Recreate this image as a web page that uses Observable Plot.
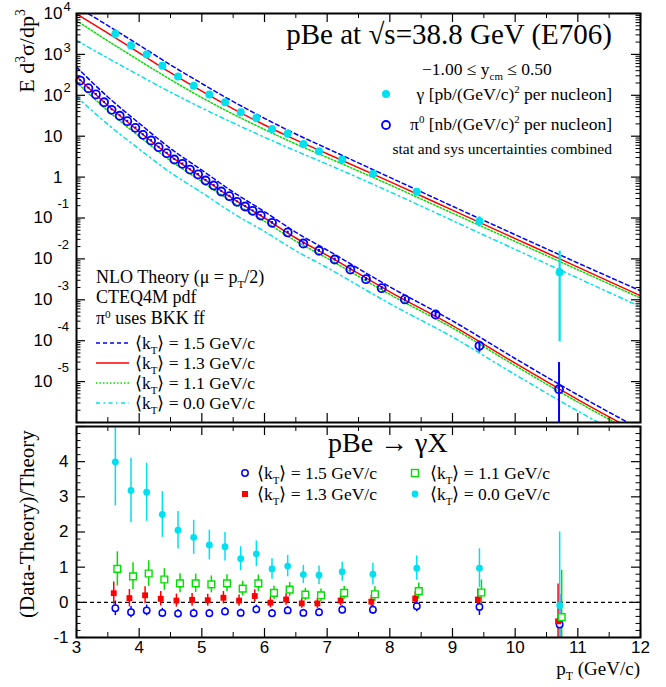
<!DOCTYPE html>
<html><head><meta charset="utf-8">
<script src="https://cdn.jsdelivr.net/npm/d3@7"></script>
<script src="https://cdn.jsdelivr.net/npm/@observablehq/plot@0.6"></script>
<style>
html,body{margin:0;padding:0;background:#fff;}
#wrap{position:relative;width:666px;height:687px;overflow:hidden;background:#fff;}
#wrap svg{position:absolute;left:0;}
</style></head><body><div id="wrap"></div>
<script>
// ---------------- data ----------------
const gammaPt = [3.62,3.87,4.12,4.37,4.62,4.87,5.12,5.37,5.62,5.87,6.12,6.37,6.62,6.87,7.24,7.73,8.43,9.43,10.71];
const gammaXsec = [3190,1650,1000,526,288,171,105,68,38.6,28,15.1,11.4,6.45,4.3,2.7,1.2,0.436,0.0836,0.0047];
const gammaRelErr = [0.25,0.22,0.20,0.186,0.175,0.17,0.16,0.157,0.152,0.153,0.149,0.15,0.145,0.15,0.144,0.172,0.175,0.28,2.3];

const pi0Pt = [3.06,3.19,3.31,3.44,3.56,3.69,3.81,3.94,4.06,4.19,4.31,4.44,4.56,4.69,4.81,4.94,5.06,5.19,5.31,5.44,5.56,5.69,5.81,5.94,6.12,6.37,6.62,6.87,7.12,7.37,7.62,7.87,8.24,8.73,9.43,10.70];
const pi0Xsec = [229,149,105,67.6,44.2,31.6,23.3,16.0,10.8,7.85,5.38,3.84,2.69,2.11,1.53,1.16,0.826,0.624,0.445,0.341,0.249,0.191,0.150,0.115,0.0764,0.0443,0.0238,0.0158,0.00966,0.00551,0.00319,0.00192,0.00102,0.000437,0.000075,0.0000065];
const pi0RelErr = [0.05,0.05,0.05,0.05,0.05,0.05,0.05,0.05,0.05,0.05,0.05,0.05,0.05,0.05,0.05,0.05,0.05,0.05,0.05,0.05,0.05,0.05,0.05,0.05,0.07,0.07,0.08,0.08,0.08,0.09,0.1,0.1,0.12,0.15,0.3,3.5];

const theoryPt = [3,3.5,4,4.5,5,5.5,6,6.5,7,8,9,10,11,12];
const gammaKt15 = [14791,5070,1687,555,194,70.3,27.4,11.3,5.01,0.984,0.194,0.0391,0.00794,0.00166];
const gammaKt13 = [9772,3311,1089,358,126,46.7,18.8,8.11,3.72,0.773,0.156,0.0314,0.00631,0.00126];
const gammaKt11 = [6683,2138,711,242,87.7,34.6,14.6,6.44,3.02,0.646,0.131,0.0267,0.00543,0.0011];
const gammaKt00 = [2188,813,307,119,49.0,21.1,9.44,4.36,2.07,0.437,0.0865,0.0171,0.00339,0.000676];
const pi0Kt15 = [490,91.2,20.7,5.01,1.48,0.431,0.143,0.0447,0.0164,0.00207,3.05e-4,3.67e-5,4.73e-6,6.84e-7];
const pi0Kt13 = [288,56.2,13.0,3.24,0.977,0.292,0.1,0.0324,0.0122,0.00157,2.34e-4,2.82e-5,3.63e-6,5.25e-7];
const pi0Kt11 = [209,41.7,9.89,2.51,0.776,0.237,0.0832,0.0272,0.01035,0.00135,2.04e-4,2.45e-5,3.16e-6,4.57e-7];
const pi0Kt00 = [93.3,19.5,4.84,1.29,0.417,0.130,0.0468,0.0158,0.0061,8.04e-4,1.23e-4,1.48e-5,1.91e-6,2.75e-7];

// (Data-Theory)/Theory for the photon, per kT
const ratioKt15 = [-0.17,-0.28,-0.23,-0.30,-0.32,-0.31,-0.31,-0.26,-0.30,-0.20,-0.31,-0.23,-0.30,-0.28,-0.21,-0.21,-0.11,-0.13,-0.63];
const ratioKt13 = [0.26,0.12,0.20,0.10,0.05,0.07,0.06,0.13,0.05,0.18,-0.01,0.08,-0.03,-0.03,0.05,0.02,0.11,0.08,-0.54];
const ratioKt11 = [0.95,0.74,0.82,0.65,0.54,0.54,0.51,0.54,0.39,0.54,0.27,0.36,0.22,0.20,0.27,0.23,0.32,0.28,-0.42];
const ratioKt00 = [3.99,3.18,3.13,2.50,2.05,1.85,1.63,1.58,1.24,1.38,0.95,1.03,0.79,0.77,0.87,0.80,0.97,0.97,-0.09];

const yDecadeExps = [4,3,2,1,0,-1,-2,-3,-4,-5];
const xTickLabels = [3,4,5,6,7,8,9,10,11,12];
const ratioTickLabels = [-1,0,1,2,3,4];

// ---------------- style ----------------
const BLUE = "#0000ff", RED = "#ff0000", GREEN = "#00e000", CYAN = "#00e0ee";
const DASH = {b:"4,3", r:null, g:"1.5,2", c:"4,3.5,1.5,3.5"};
const SANS = "Liberation Sans, Arial, sans-serif";
const SERIF = "Liberation Serif, Times New Roman, serif";

const W = 666, ML = 76, MR = 26;
const FW = W - ML - MR;

// ---------------- top panel ----------------
const topH = 425, topMT = 13, topMB = 3;
const topFH = topH - topMT - topMB;
const curve = (vals, color, dash) => Plot.line(theoryPt.map((p,i)=>({x:p,y:vals[i]})),
  {x:"x", y:"y", stroke:color, strokeWidth:1.5, strokeDasharray:dash, curve:"monotone-x", clip:true});

const decades = d3.range(-6,5).map(e=>10**e);
const minorLog = [];
for (let e=-6;e<4;e++) for (let m=2;m<10;m++) minorLog.push(m*10**e);
const xMajor = d3.range(3,12.01,1), xMinor = d3.range(3.5,12,1);

const gammaRows = gammaPt.map((p,i)=>({x:p, y:gammaXsec[i], lo:Math.max(gammaXsec[i]*(1-gammaRelErr[i]), gammaXsec[i]/50), hi:gammaXsec[i]*(1+gammaRelErr[i])}));
const pi0Rows = pi0Pt.map((p,i)=>({x:p, y:pi0Xsec[i], lo:Math.max(pi0Xsec[i]*(1-pi0RelErr[i]), pi0Xsec[i]/50), hi:pi0Xsec[i]*(1+pi0RelErr[i])}));

const posExps = yDecadeExps.filter(e=>e>=0), negExps = yDecadeExps.filter(e=>e<0);
const topPlot = Plot.plot({
  width:W, height:topH, marginLeft:ML, marginRight:MR, marginTop:topMT, marginBottom:topMB,
  x:{domain:[3,12], axis:null},
  y:{type:"log", domain:[1e-6,1e4], axis:null},
  marks:[
    curve(gammaKt00, CYAN, DASH.c), curve(gammaKt11, GREEN, DASH.g), curve(gammaKt13, RED, DASH.r), curve(gammaKt15, BLUE, DASH.b),
    curve(pi0Kt00, CYAN, DASH.c), curve(pi0Kt11, GREEN, DASH.g), curve(pi0Kt13, RED, DASH.r), curve(pi0Kt15, BLUE, DASH.b),
    Plot.ruleX(gammaRows, {x:"x", y1:"lo", y2:"hi", stroke:CYAN, strokeWidth:2.2, clip:true}),
    Plot.ruleX(pi0Rows, {x:"x", y1:"lo", y2:"hi", stroke:BLUE, strokeWidth:2, clip:true}),
    Plot.dot(gammaRows, {x:"x", y:"y", r:4, fill:CYAN, stroke:"none"}),
    Plot.dot(pi0Rows, {x:"x", y:"y", r:4, fill:"none", stroke:BLUE, strokeWidth:1.8}),
    // ticks
    Plot.tickY(decades, {y:d=>d, stroke:"black", strokeWidth:1.2, insetRight:FW-9}),
    Plot.tickY(decades, {y:d=>d, stroke:"black", strokeWidth:1.2, insetLeft:FW-9}),
    Plot.tickY(minorLog, {y:d=>d, stroke:"black", strokeWidth:1, insetRight:FW-4.5}),
    Plot.tickY(minorLog, {y:d=>d, stroke:"black", strokeWidth:1, insetLeft:FW-4.5}),
    Plot.tickX(xMajor, {x:d=>d, stroke:"black", strokeWidth:1.2, insetBottom:topFH-9}),
    Plot.tickX(xMinor, {x:d=>d, stroke:"black", strokeWidth:1, insetBottom:topFH-5}),
    Plot.tickX(xMajor, {x:d=>d, stroke:"black", strokeWidth:1.2, insetTop:topFH-9}),
    Plot.tickX(xMinor, {x:d=>d, stroke:"black", strokeWidth:1, insetTop:topFH-5}),
    // tick labels
    Plot.text(posExps, {y:e=>10**e, frameAnchor:"left", dx:-14, textAnchor:"end", text:e=>e===0?"1":"10", fontSize:17, fontFamily:SANS, fill:"black"}),
    Plot.text(posExps.filter(e=>e>=2), {y:e=>10**e, frameAnchor:"left", dx:-13, dy:-7, textAnchor:"start", text:e=>String(e), fontSize:13, fontFamily:SANS, fill:"black"}),
    Plot.text(negExps, {y:e=>10**e, frameAnchor:"left", dx:-24, textAnchor:"end", text:()=>"10", fontSize:17, fontFamily:SANS, fill:"black"}),
    Plot.text(negExps, {y:e=>10**e, frameAnchor:"left", dx:-19, dy:-14, textAnchor:"start", text:e=>"-"+(-e), fontSize:13, fontFamily:SANS, fill:"black"}),
    Plot.frame({stroke:"black", strokeWidth:2})
  ]
});
topPlot.style.top = "0px";

// ---------------- bottom panel ----------------
const botTop = 424, botH = 263, botMT = 2, botMB = 50;
const botFH = botH - botMT - botMB;
const ratioRows = (arr) => gammaPt.map((p,i)=>({x:p, y:arr[i], lo:arr[i]-(1+arr[i])*gammaRelErr[i], hi:arr[i]+(1+arr[i])*gammaRelErr[i]}));
const r15 = ratioRows(ratioKt15), r13 = ratioRows(ratioKt13), r11 = ratioRows(ratioKt11), r00 = ratioRows(ratioKt00);
const yMinorR = d3.range(-0.8,5,0.2).map(v=>Math.round(v*10)/10).filter(v=>Math.abs(v-Math.round(v))>1e-6);

const botPlot = Plot.plot({
  width:W, height:botH, marginLeft:ML, marginRight:MR, marginTop:botMT, marginBottom:botMB,
  x:{domain:[3,12], axis:null},
  y:{domain:[-1,5], axis:null},
  marks:[
    Plot.ruleY([0], {stroke:"black", strokeWidth:1.3, strokeDasharray:"4,3"}),
    Plot.ruleX(r15, {x:"x", y1:"lo", y2:"hi", stroke:BLUE, strokeWidth:1.5, clip:true}),
    Plot.ruleX(r13, {x:"x", y1:"lo", y2:"hi", stroke:RED, strokeWidth:1.5, dx:-1.6, clip:true}),
    Plot.ruleX(r11, {x:"x", y1:"lo", y2:"hi", stroke:GREEN, strokeWidth:1.5, dx:2, clip:true}),
    Plot.ruleX(r00, {x:"x", y1:"lo", y2:"hi", stroke:CYAN, strokeWidth:1.5, clip:true}),
    Plot.dot(r15, {x:"x", y:"y", r:3.2, fill:"white", stroke:BLUE, strokeWidth:1.5}),
    Plot.dot(r13, {x:"x", y:"y", r:3.3, symbol:"square", fill:RED, stroke:"none", dx:-1.6}),
    Plot.dot(r11, {x:"x", y:"y", r:3.8, symbol:"square", fill:"white", stroke:GREEN, strokeWidth:1.4, dx:2}),
    Plot.dot(r00, {x:"x", y:"y", r:3.4, fill:CYAN, stroke:"none"}),
    // ticks
    Plot.tickY(ratioTickLabels.concat([5]), {y:d=>d, stroke:"black", strokeWidth:1.2, insetRight:FW-9}),
    Plot.tickY(ratioTickLabels.concat([5]), {y:d=>d, stroke:"black", strokeWidth:1.2, insetLeft:FW-9}),
    Plot.tickY(yMinorR, {y:d=>d, stroke:"black", strokeWidth:1, insetRight:FW-4.5}),
    Plot.tickY(yMinorR, {y:d=>d, stroke:"black", strokeWidth:1, insetLeft:FW-4.5}),
    Plot.tickX(xMajor, {x:d=>d, stroke:"black", strokeWidth:1.2, insetBottom:botFH-9}),
    Plot.tickX(xMinor, {x:d=>d, stroke:"black", strokeWidth:1, insetBottom:botFH-5}),
    Plot.tickX(xMajor, {x:d=>d, stroke:"black", strokeWidth:1.2, insetTop:botFH-9}),
    Plot.tickX(xMinor, {x:d=>d, stroke:"black", strokeWidth:1, insetTop:botFH-5}),
    Plot.text(xTickLabels, {x:d=>d, frameAnchor:"bottom", dy:15, text:d=>String(d), fontSize:17, fontFamily:SANS, fill:"black"}),
    Plot.text(ratioTickLabels, {y:d=>d, frameAnchor:"left", dx:-8, textAnchor:"end", text:d=>d<0?"-"+(-d):String(d), fontSize:17, fontFamily:SANS, fill:"black"}),
    Plot.frame({stroke:"black", strokeWidth:2})
  ]
});
botPlot.style.top = botTop + "px";

// ---------------- overlay text ----------------
const ov = d3.create("svg").attr("width",W).attr("height",687).style("top","0px").style("pointer-events","none");
function rich(x, y, parts, {size=17, anchor="start", family=SERIF, transform=null, supRaise=0.42}={}) {
  const t = ov.append("text").attr("x",x).attr("y",y).attr("font-size",size).attr("font-family",family)
    .attr("text-anchor",anchor).attr("fill","black");
  if (transform) t.attr("transform", transform);
  let cur = 0;
  for (const [txt, kind] of parts) {
    const ts = t.append("tspan").text(txt);
    const target = kind==="sup" ? -supRaise*size : kind==="sub" ? 0.28*size : 0;
    if (target !== cur) ts.attr("dy", target-cur);
    cur = target;
    if (kind) ts.attr("font-size", size*0.62);
  }
  return t;
}
rich(612, 44, [["pBe at \u221As=38.8 GeV (E706)"]], {size:29, anchor:"end"});
rich(422, 75, [["\u22121.00 \u2264 y"],["cm","sub"],[" \u2264 0.50"]], {size:17.5});
ov.append("circle").attr("cx",386).attr("cy",94).attr("r",4).attr("fill",CYAN);
rich(612, 100, [["\u03B3  [pb/(GeV/c)"],["2","sup"],[" per nucleon]"]], {size:17.5, anchor:"end"});
ov.append("circle").attr("cx",386).attr("cy",125).attr("r",4).attr("fill","none").attr("stroke",BLUE).attr("stroke-width",1.8);
rich(612, 130, [["\u03C0"],["0","sup"],[" [nb/(GeV/c)"],["2","sup"],[" per nucleon]"]], {size:17.5, anchor:"end"});
rich(612, 154, [["stat and sys uncertainties combined"]], {size:15.5, anchor:"end"});

rich(96, 283, [["NLO Theory (\u03BC = p"],["T","sub"],["/2)"]], {size:18});
rich(96, 303, [["CTEQ4M pdf"]], {size:18});
rich(96, 324, [["\u03C0"],["0","sup"],[" uses BKK ff"]], {size:18, supRaise:0.34});
const legKt = [["1.5", BLUE, DASH.b, 343], ["1.3", RED, DASH.r, 363], ["1.1", GREEN, DASH.g, 383], ["0.0", CYAN, DASH.c, 403]];
for (const [k, col, dash, y] of legKt) {
  const l = ov.append("line").attr("x1",96).attr("x2",129).attr("y1",y).attr("y2",y).attr("stroke",col).attr("stroke-width",1.5);
  if (dash) l.attr("stroke-dasharray", dash);
  rich(135, y+6, [["\u27E8k"],["T","sub"],["\u27E9 = "+k+" GeV/c"]], {size:17.5});
}

rich(328, 452, [["pBe \u2192 \u03B3X"]], {size:28});
ov.append("circle").attr("cx",245).attr("cy",473).attr("r",3.2).attr("fill","white").attr("stroke",BLUE).attr("stroke-width",1.5);
rich(257, 479, [["\u27E8k"],["T","sub"],["\u27E9 = 1.5 GeV/c"]], {size:17.5});
ov.append("rect").attr("x",242).attr("y",491).attr("width",6).attr("height",6).attr("fill",RED);
rich(257, 500, [["\u27E8k"],["T","sub"],["\u27E9 = 1.3 GeV/c"]], {size:17.5});
ov.append("rect").attr("x",411.5).attr("y",469.5).attr("width",7).attr("height",7).attr("fill","white").attr("stroke",GREEN).attr("stroke-width",1.4);
rich(430, 479, [["\u27E8k"],["T","sub"],["\u27E9 = 1.1 GeV/c"]], {size:17.5});
ov.append("circle").attr("cx",415).attr("cy",494).attr("r",3.4).attr("fill",CYAN);
rich(430, 500, [["\u27E8k"],["T","sub"],["\u27E9 = 0.0 GeV/c"]], {size:17.5});

rich(640, 675, [["p"],["T","sub"],[" (GeV/c)"]], {size:19, anchor:"end"});
rich(0, 0, [["E d"],["3","sup"],["\u03C3/dp"],["3","sup"]], {size:22, anchor:"middle", transform:"translate(34,51) rotate(-90)"});
rich(0, 0, [["(Data-Theory)/Theory"]], {size:21, anchor:"middle", transform:"translate(34,524) rotate(-90)"});

const wrap = document.getElementById("wrap");
wrap.appendChild(topPlot);
wrap.appendChild(botPlot);
wrap.appendChild(ov.node());
</script>
</body></html>
